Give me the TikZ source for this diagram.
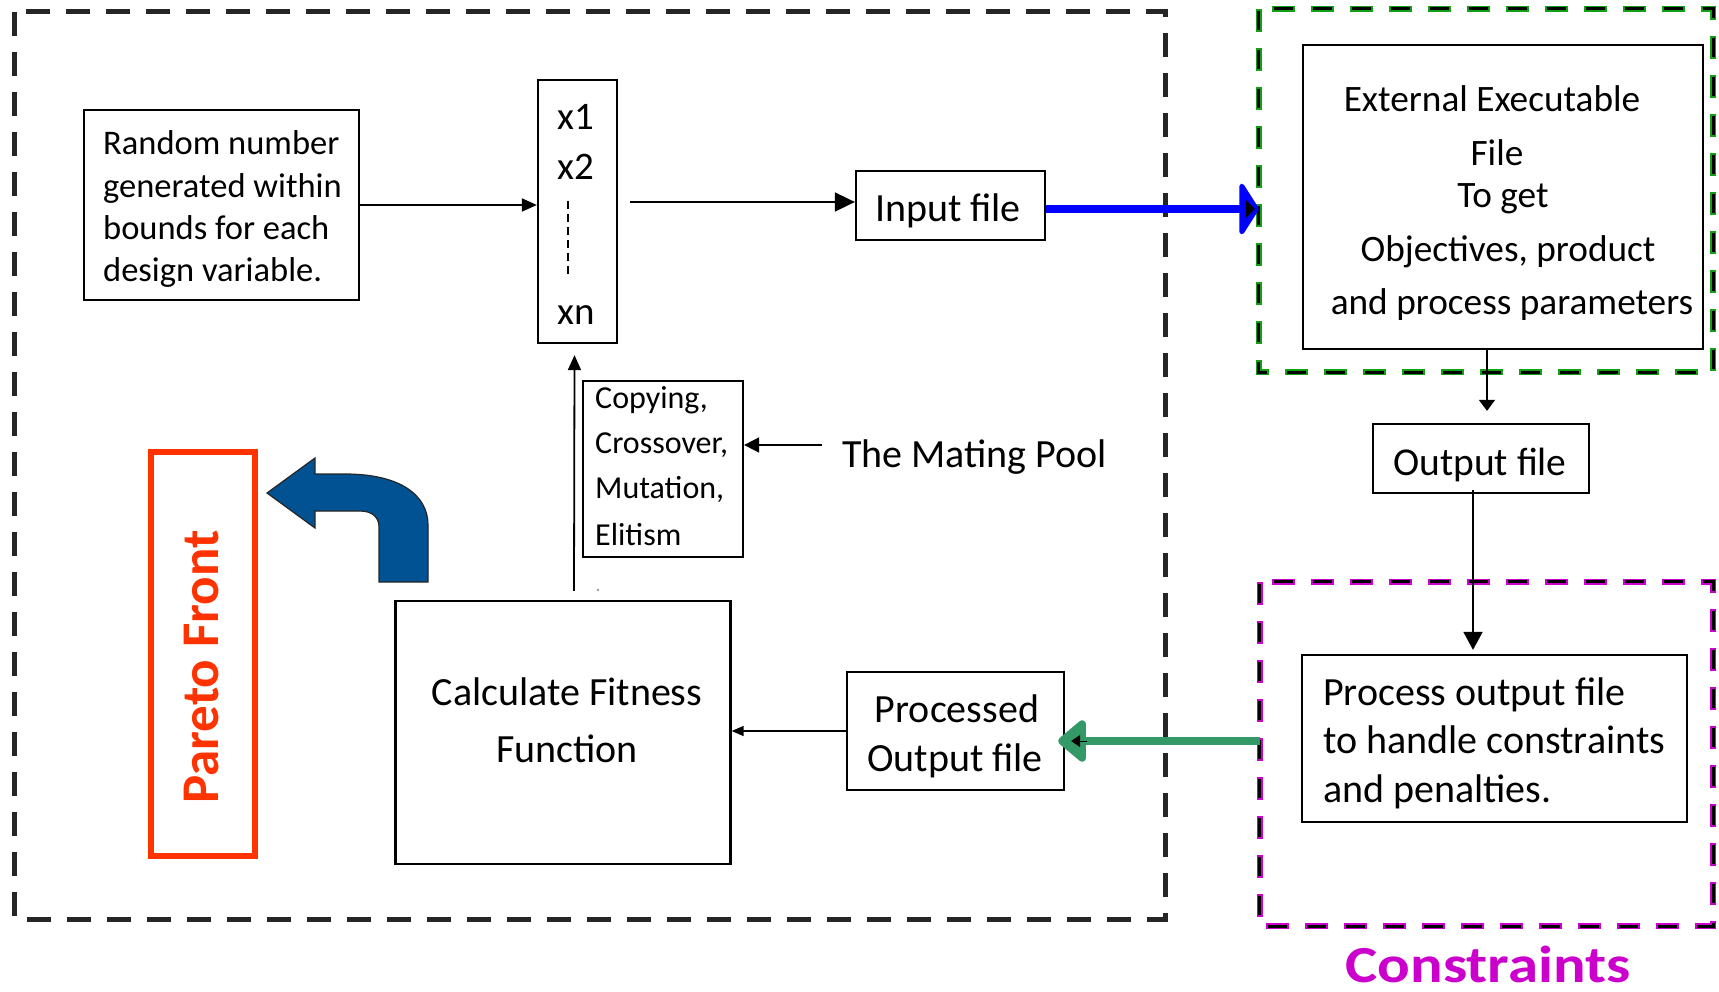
\documentclass[tikz,border=0pt]{standalone}
\usepackage{fontspec}
\setmainfont{Carlito}
\usetikzlibrary{arrows.meta}
\definecolor{paretored}{RGB}{255,51,0}
\definecolor{bendblue}{RGB}{0,82,147}
\definecolor{linkblue}{RGB}{0,0,255}
\definecolor{linkgreen}{RGB}{51,153,102}
\definecolor{exegreen}{RGB}{20,160,20}
\definecolor{conmag}{RGB}{204,0,204}

\begin{document}
\begin{tikzpicture}[x=1pt,y=-1pt,
  box/.style={draw=black, line width=2.3pt, inner sep=0pt},
  frame/.style={draw=none, inner sep=0pt},
  fs/.style={font=\fontsize{#1}{#1}\selectfont},
  lbl/.style={anchor=base, inner sep=0pt},
  lblw/.style={anchor=base west, inner sep=0pt},
  arr/.style 2 args={draw=black, line width=1.8pt, -{Triangle[length=#1pt,width=#2pt]}},
  outerdash/.style={draw=black!85, line width=5pt, dash pattern=on 24pt off 16pt},
  colourdash/.style={draw=#1, line width=6.5pt, dash pattern=on 23pt off 16pt},
  coredash/.style={draw=black, line width=3pt, dash pattern=on 19pt off 20pt, dash phase=37pt}
]
\useasboundingbox (0,0) rectangle (1719,992);
\fill[white] (0,0) rectangle (1719,992);

% ---------- grouping frames ----------
\node[frame, minimum width=1150pt, minimum height=907pt] (outer) at (590,465.5) {};
\draw[outerdash] (outer.north west) rectangle (outer.south east);

\node[frame, minimum width=454pt, minimum height=363pt] (exebox) at (1486,190.5) {};
\draw[colourdash=exegreen] (exebox.north west) rectangle (exebox.south east);
\draw[coredash] (exebox.north west) rectangle (exebox.south east);

\node[frame, minimum width=453pt, minimum height=344pt] (conbox) at (1486.5,754) {};
\draw[colourdash=conmag] (conbox.north west) rectangle (conbox.south east);
\draw[coredash] (conbox.north west) rectangle (conbox.south east);

% ---------- boxes ----------
\node[box, minimum width=275pt, minimum height=190pt] (rand) at (221.5,205) {};
\node[box, minimum width=79pt, minimum height=263pt] (vars) at (577.5,211.5) {};
\node[box, minimum width=189pt, minimum height=69pt] (inp) at (950.5,205.5) {};
\node[box, minimum width=400pt, minimum height=304pt] (ext) at (1503,197) {};
\node[box, minimum width=216pt, minimum height=69pt] (outp) at (1481,458.5) {};
\node[box, minimum width=385pt, minimum height=167pt] (proc) at (1494.5,738.5) {};
\node[box, minimum width=217pt, minimum height=118pt] (pof) at (955.5,731) {};
\node[box, minimum width=335pt, minimum height=263pt] (calc) at (563,732.5) {};
\node[box, minimum width=160pt, minimum height=176pt] (copy) at (663,469) {};
\node[draw=paretored, line width=6pt, inner sep=0pt, minimum width=104pt, minimum height=404pt] (pf) at (203,654) {};

% ---------- texts ----------
\node[lblw, fs=34.5] (r1) at (103,155) {Random number};
\node[lblw, fs=34.5] (r2) at (103,198) {generated within};
\node[lblw, fs=34.5] (r3) at (103,240) {bounds for each};
\node[lblw, fs=34.5] (r4) at (103,282) {design variable.};

\node[lbl, fs=39] (x1) at (576,130) {x1};
\node[lbl, fs=39] (x2) at (576,180) {x2};
\node[lbl, fs=39] (xn) at (576,325) {xn};
\draw[line width=1.5pt, dash pattern=on 8pt off 5pt] (568,201) -- (568,276);

\node[lbl, fs=40] (inpt) at (948,222) {Input file};

\node[lbl, fs=37.3] (e1) at (1492,112) {External Executable};
\node[lbl, fs=37.3] (e2) at (1497,166) {File};
\node[lbl, fs=37.3] (e3) at (1503,208) {To get};
\node[lbl, fs=37.3] (e4) at (1508,262) {Objectives, product};
\node[lbl, fs=37.3] (e5) at (1512,315) {and process parameters};

\node[lbl, fs=39.5] (outpt) at (1480,475) {Output file};

\node[lblw, fs=40] (p1) at (1323,705) {Process output file};
\node[lblw, fs=40] (p2) at (1323,753) {to handle constraints};
\node[lblw, fs=40] (p3) at (1323,802) {and penalties.};

\node[lbl, font=\fontsize{52}{52}\selectfont\bfseries, text=conmag] (cons) at (1488,982) {\scalebox{1.17}[1]{Constraints}};

\node[lbl, fs=40] (pof1) at (957,722) {Processed};
\node[lbl, fs=40] (pof2) at (955,771) {Output file};

\node[lbl, fs=40] (c1) at (567,705) {Calculate Fitness};
\node[lbl, fs=40] (c2) at (567,762) {Function};

\node[lblw, fs=32] (g1) at (595,408) {Copying,};
\node[lblw, fs=32] (g2) at (595,453) {Crossover,};
\node[lblw, fs=32] (g3) at (595,498) {Mutation,};
\node[lblw, fs=32] (g4) at (595,545) {Elitism};

\node[lblw, fs=40] (mp) at (842,467) {The Mating Pool};

\node[lbl, rotate=90, font=\fontsize{53}{53}\selectfont\bfseries, text=paretored] (pft) at (218,667) {Pareto Front};

% ---------- bent block arrow ----------
\filldraw[fill=bendblue, draw=black!85, line width=1.2pt, line join=miter]
  (267,493) -- (315,458) -- (315,474) -- (345,474)
  .. controls (400,474) and (428,495) .. (428,525)
  -- (428,582) -- (379,582) -- (379,527)
  .. controls (379,518) and (373,511) .. (360,511)
  -- (315,511) -- (315,528) -- cycle;

% ---------- connectors ----------
\draw[arr={15}{13}] (rand.east) -- (rand.east -| vars.west);
\draw[arr={20}{19}] ([xshift=12pt,yshift=3.5pt]inp.west -| vars.east) -- ([yshift=3.5pt]inp.west);
\draw[arr={11}{16}, line width=1.7pt] ([xshift=-16pt]ext.south) -- ([xshift=6pt,yshift=12pt]outp.north);
\draw[arr={18}{19}] ([xshift=-8pt,yshift=4pt]outp.south) -- ([xshift=-8pt,yshift=4pt]outp.south |- proc.north);
\draw[arr={12}{10}, line width=1.5pt] (pof.west) -- (pof.west -| calc.east);
\coordinate (mpstart) at ([xshift=-20pt,yshift=22pt]mp.base west);
\draw[arr={15}{15}] (mpstart) -- (mpstart -| copy.east);
\draw[arr={15}{13}] ([xshift=11pt,yshift=9pt]calc.north) -- ([xshift=-3pt,yshift=-11pt]vars.south);
\fill[black!45] ([xshift=35pt,yshift=10pt]calc.north) circle (1.3pt);

% thick coloured links with their small inner heads
\draw[linkblue, line width=8pt, -{Triangle[length=20pt,width=62pt,round]}]
  ([yshift=-3.5pt]inp.east) -- ([yshift=-3.5pt]inp.east -| exebox.west);
\draw[black, line width=1pt, -{Triangle[length=9pt,width=18pt]}]
  ([xshift=-13pt,yshift=-3.5pt]inp.east -| exebox.west) -- ([xshift=-4pt,yshift=-3.5pt]inp.east -| exebox.west);

\draw[linkgreen, line width=8pt, -{Triangle[length=30pt,width=48pt,round]}]
  ([yshift=-10pt]pof.east -| conbox.west) -- ([xshift=-7pt,yshift=-10pt]pof.east);
\draw[black, line width=1pt, -{Triangle[length=9pt,width=12pt]}]
  ([xshift=22pt,yshift=-10pt]pof.east) -- ([xshift=6pt,yshift=-10pt]pof.east);
\end{tikzpicture}
\end{document}
